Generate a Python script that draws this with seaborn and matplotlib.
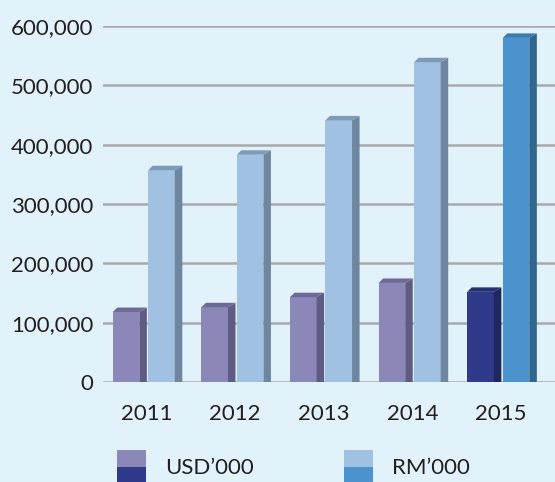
import numpy as np
import pandas as pd
import matplotlib
matplotlib.use("Agg")
import matplotlib.pyplot as plt
from matplotlib.patches import Polygon, Rectangle
import seaborn as sns

# data
years = ['2011', '2012', '2013', '2014', '2015']
usd = [118000, 126000, 143000, 167000, 152000]
rm = [357000, 383000, 441000, 539000, 580000]
series = ['USD\u2019000', 'RM\u2019000']
yticks = [0, 100000, 200000, 300000, 400000, 500000, 600000]

# colours: (front, side, top) for normal years and for the last year
usd_cols = ('#8B87B9', '#5F5B82', '#6E6A96')
rm_cols = ('#A0C1E1', '#6F86A0', '#7F9AB8')
usd_last = ('#2F3B8A', '#1F275E', '#27306E')
rm_last = ('#4A93CC', '#2E6690', '#3A7AAE')
bg = '#E1F2FA'
txt = '#231F20'

df = pd.DataFrame({
    'year': years * 2,
    'value': usd + rm,
    'series': [series[0]] * len(years) + [series[1]] * len(years),
})

sns.set_style('white')
plt.rcParams['font.family'] = ['Lato', 'DejaVu Sans']

fig = plt.figure(figsize=(5.55, 4.82), dpi=100, facecolor=bg)
ax = fig.add_axes([103 / 555, 100 / 482, 452 / 555, 356 / 482])
ax.set_facecolor(bg)

sns.barplot(data=df, x='year', y='value', hue='series',
            palette=[usd_cols[0], rm_cols[0]], width=0.8, saturation=1,
            legend=False, ax=ax, zorder=3)

dy = 7500  # depth rise of the fake 3d in data units
for k, cont in enumerate(ax.containers):
    for i, bar in enumerate(cont):
        if k == 0:
            cols = usd_last if i == len(years) - 1 else usd_cols
        else:
            cols = rm_last if i == len(years) - 1 else rm_cols
        x0 = bar.get_x() + 0.02
        wf = 0.3
        d = 0.085
        h = bar.get_height()
        bar.set_x(x0)
        bar.set_width(wf)
        bar.set_facecolor(cols[0])
        bar.set_edgecolor('none')
        x1 = x0 + wf
        side = Polygon([(x1, 0), (x1 + d, 0), (x1 + d, h + dy), (x1, h)],
                       closed=True, facecolor=cols[1], edgecolor='none',
                       zorder=3, clip_on=False)
        top = Polygon([(x0, h), (x1, h), (x1 + d, h + dy), (x0 + d * 0.6, h + dy)],
                      closed=True, facecolor=cols[2], edgecolor='none',
                      zorder=3, clip_on=False)
        ax.add_patch(side)
        ax.add_patch(top)

ax.set_xlim(-0.49, 4.61)
ax.set_ylim(0, 600000)
ax.set_yticks(yticks)
ax.set_yticklabels([f'{v:,}' for v in yticks])
ax.grid(axis='y', color='#A7A9AC', lw=1.8)
ax.set_axisbelow(True)
for s in ax.spines.values():
    s.set_visible(False)
ax.tick_params(axis='y', length=0, pad=7, labelsize=16, labelcolor=txt)
ax.tick_params(axis='x', length=0, pad=16, labelsize=16, labelcolor=txt)
ax.set_xlabel('')
ax.set_ylabel('')

# legend: split swatches like the reference
legend_items = [(117, usd_cols[0], usd_last[0], series[0], 165),
                (344, rm_cols[0], rm_last[0], series[1], 392)]
for px, c_top, c_bot, label, tx in legend_items:
    fig.add_artist(Rectangle((px / 555, 15.3 / 482), 29 / 555, 16.7 / 482,
                             transform=fig.transFigure, facecolor=c_top, edgecolor='none'))
    fig.add_artist(Rectangle((px / 555, 0), 29 / 555, 15.3 / 482,
                             transform=fig.transFigure, facecolor=c_bot, edgecolor='none'))
    fig.text(tx / 555, 14 / 482, label, fontsize=16, color=txt, va='center', ha='left')

fig.savefig('out.png', dpi=100, facecolor=bg)
